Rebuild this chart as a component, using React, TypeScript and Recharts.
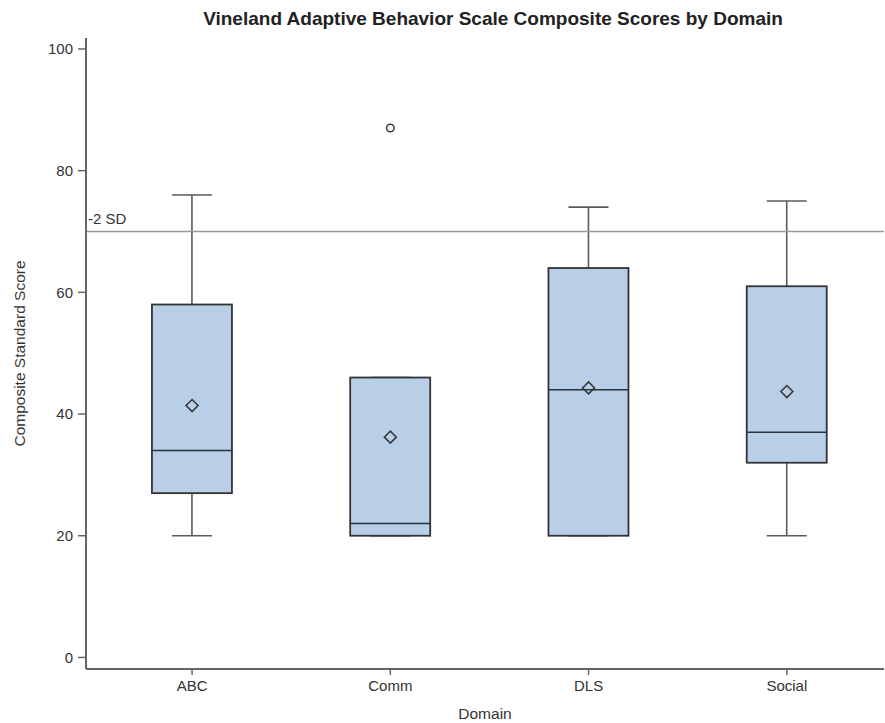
import React from 'react';
import {
  ComposedChart,
  XAxis,
  YAxis,
  Bar,
  Scatter,
  ReferenceLine,
} from 'recharts';

const categories = ['ABC', 'Comm', 'DLS', 'Social'];
const whiskerLow = [20, 20, 20, 20];
const q1 = [27, 20, 20, 32];
const median = [34, 22, 44, 37];
const q3 = [58, 46, 64, 61];
const whiskerHigh = [76, 46, 74, 75];
const mean = [41.4, 36.2, 44.3, 43.7];
const outlierCats = ['Comm'];
const outlierValues = [87];
const yTicks = [0, 20, 40, 60, 80, 100];
const refValue = 70;
const refLabel = '-2 SD';

const rows = categories.map((c, i) => ({
  x: i + 1,
  name: c,
  whisker: [whiskerLow[i], whiskerHigh[i]],
  box: [q1[i], q3[i]],
  median: median[i],
  mean: mean[i],
}));

const outliers = outlierCats.map((c, i) => ({
  x: categories.indexOf(c) + 1,
  value: outlierValues[i],
}));

const FONT = 'Liberation Sans, Arial, sans-serif';
const TEXT = '#333';
const AXIS = '#666';

const WhiskerShape = (props: any) => {
  const { x, y, width, height } = props;
  const top = Math.min(y, y + height);
  const bot = Math.max(y, y + height);
  const cx = x + width / 2;
  return (
    <g>
      <line x1={cx} x2={cx} y1={top} y2={bot} stroke="#5a5a5a" strokeWidth={1.6} />
      <line x1={x} x2={x + width} y1={top} y2={top} stroke="#5a5a5a" strokeWidth={1.6} />
      <line x1={x} x2={x + width} y1={bot} y2={bot} stroke="#5a5a5a" strokeWidth={1.6} />
    </g>
  );
};

const BoxShape = (props: any) => {
  const { x, y, width, height } = props;
  const top = Math.min(y, y + height);
  const h = Math.abs(height);
  return (
    <rect x={x} y={top} width={width} height={h} fill="#B9CFE8" stroke="#333" strokeWidth={1.8} />
  );
};

const MedianShape = (props: any) => {
  const { cx, cy } = props;
  return <line x1={cx - 40} x2={cx + 40} y1={cy} y2={cy} stroke="#2a323b" strokeWidth={1.6} />;
};

const MeanShape = (props: any) => {
  const { cx, cy } = props;
  const r = 6;
  return (
    <path
      d={`M${cx},${cy - r} L${cx + r},${cy} L${cx},${cy + r} L${cx - r},${cy} Z`}
      fill="none"
      stroke="#3a3a3a"
      strokeWidth={1.6}
    />
  );
};

const OutlierShape = (props: any) => {
  const { cx, cy } = props;
  return <circle cx={cx} cy={cy} r={3.8} fill="#fff" stroke="#3a3a3a" strokeWidth={1.5} />;
};

const RefLabel = (props: any) => {
  const { viewBox } = props;
  return (
    <text x={viewBox.x + 2} y={viewBox.y - 7} fill={TEXT} fontSize={15} fontFamily={FONT} textAnchor="start">
      {refLabel}
    </text>
  );
};

export default function App() {
  return (
    <div style={{ position: 'absolute', left: 0, top: 0, width: 885, height: 723, background: '#fff' }}>
      <div
        style={{
          position: 'absolute',
          left: 94,
          width: 798,
          top: 8,
          textAlign: 'center',
          fontFamily: FONT,
          fontWeight: 'bold',
          fontSize: 19,
          color: '#222',
          lineHeight: '22px',
        }}
      >
        Vineland Adaptive Behavior Scale Composite Scores by Domain
      </div>
      <ComposedChart
        width={885}
        height={723}
        data={rows}
        margin={{ top: 38, right: 1, left: 0, bottom: 0 }}
        style={{ fontFamily: FONT }}
      >
        <XAxis
          xAxisId="main"
          type="number"
          dataKey="x"
          domain={[0.465, 4.49]}
          ticks={[1, 2, 3, 4]}
          allowDataOverflow
          tickFormatter={(v: number) => categories[v - 1]}
          height={54}
          tickSize={6}
          tickMargin={5}
          tick={{ fill: TEXT, fontSize: 15, fontFamily: FONT }}
          tickLine={{ stroke: AXIS, strokeWidth: 1.5 }}
          axisLine={{ stroke: AXIS, strokeWidth: 2 }}
          label={{ value: 'Domain', position: 'insideBottom', offset: 4, fill: TEXT, fontSize: 15.5, fontFamily: FONT }}
        />
        <XAxis xAxisId="whisk" type="number" dataKey="x" domain={[0.465, 4.49]} allowDataOverflow hide />
        <XAxis
          xAxisId="top"
          orientation="top"
          type="number"
          dataKey="x"
          domain={[0.465, 4.49]}
          allowDataOverflow
          height={0}
          tick={false}
          tickLine={false}
          axisLine={{ stroke: AXIS, strokeWidth: 2 }}
        />
        <YAxis
          type="number"
          domain={[-1.9, 101.8]}
          ticks={yTicks}
          allowDataOverflow
          width={86}
          tickSize={8}
          tickMargin={5}
          tick={{ fill: TEXT, fontSize: 15, fontFamily: FONT }}
          tickLine={{ stroke: AXIS, strokeWidth: 1.5 }}
          axisLine={{ stroke: AXIS, strokeWidth: 2 }}
          label={{
            value: 'Composite Standard Score',
            angle: -90,
            position: 'insideLeft',
            offset: 19,
            style: { textAnchor: 'middle' },
            fill: TEXT,
            fontSize: 15.5,
            fontFamily: FONT,
          }}
        />
        <ReferenceLine
          xAxisId="main"
          y={refValue}
          stroke="#999"
          strokeWidth={1.3}
          label={<RefLabel />}
        />
        <Bar xAxisId="whisk" dataKey="whisker" barSize={40} shape={<WhiskerShape />} isAnimationActive={false} />
        <Bar xAxisId="main" dataKey="box" barSize={80} shape={<BoxShape />} isAnimationActive={false} />
        <Scatter xAxisId="main" dataKey="median" shape={<MedianShape />} isAnimationActive={false} />
        <Scatter xAxisId="main" dataKey="mean" shape={<MeanShape />} isAnimationActive={false} />
        <Scatter xAxisId="main" data={outliers} dataKey="value" shape={<OutlierShape />} isAnimationActive={false} />
      </ComposedChart>
    </div>
  );
}
